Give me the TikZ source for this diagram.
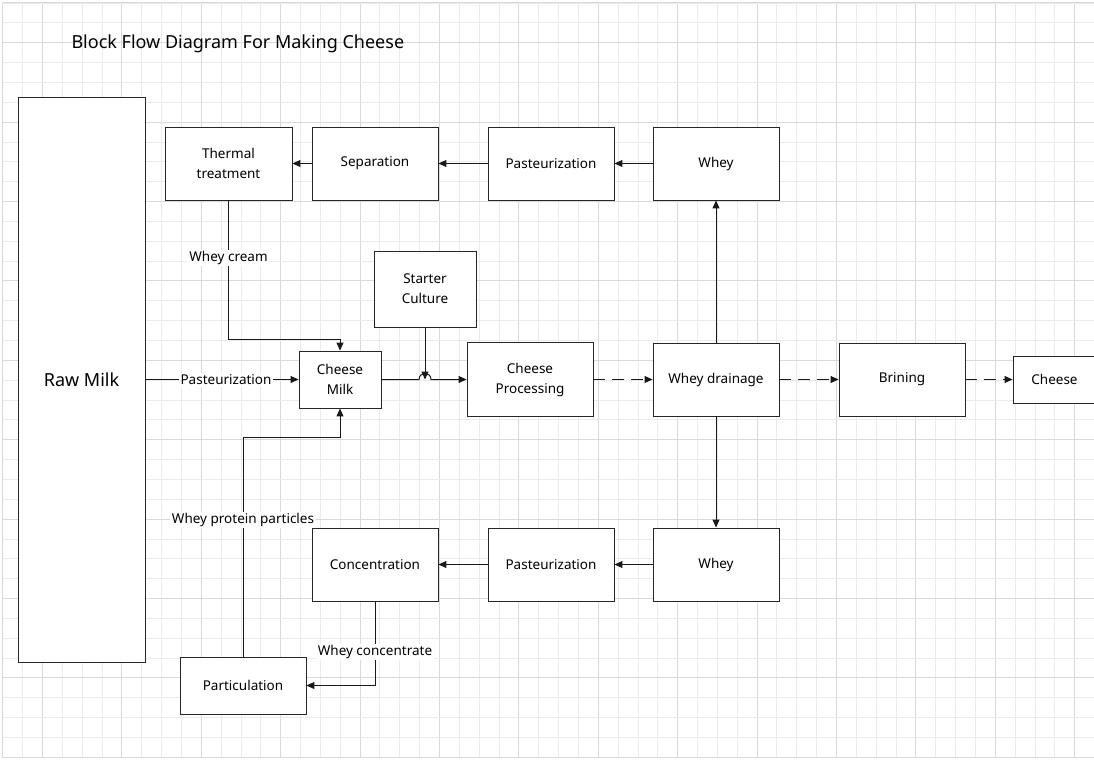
\documentclass[tikz,border=0pt]{standalone}
\usepackage{fontspec}
\setmainfont{Noto Sans}
\usetikzlibrary{arrows.meta,calc}
\tikzset{
  blk/.style={draw=black!85, line width=0.9pt, fill=white, align=center, font=\fontsize{13.5}{20}\selectfont, inner sep=2pt},
  arr/.style={draw=black!90, line width=1pt, -{Triangle[length=8pt,width=7pt]}},
  dsh/.style={dash pattern=on 12pt off 7pt},
  lbl/.style={fill=white, inner sep=1.5pt, font=\fontsize{13.5}{16}\selectfont},
  gminor/.style={draw=black!8, line width=0.8pt},
  gmajor/.style={draw=black!15, line width=1pt}
}
\begin{document}
\begin{tikzpicture}[x=1pt,y=-1pt]
\clip (0,0) rectangle (1094,762);
\fill[white] (0,0) rectangle (1094,762);
% grid
\foreach \k in {0,...,56} {
  \pgfmathsetmacro{\gx}{2.7+\k*19.85}
  \pgfmathtruncatemacro{\m}{mod(\k,4)}
  \ifnum\m=2 \draw[gmajor] (\gx,3) -- (\gx,757); \else \draw[gminor] (\gx,3) -- (\gx,757); \fi
}
\foreach \k in {0,...,38} {
  \pgfmathsetmacro{\gy}{3+\k*19.85}
  \pgfmathtruncatemacro{\m}{mod(\k,4)}
  \ifnum\m=2 \draw[gmajor] (2.7,\gy) -- (1100,\gy); \else \draw[gminor] (2.7,\gy) -- (1100,\gy); \fi
}
\draw[gmajor] (2.7,3) -- (2.7,757) -- (1100,757);
\draw[gmajor] (2.7,3) -- (1100,3);

\node[anchor=west, font=\fontsize{18}{20}\selectfont] (title) at (68,44) {Block Flow Diagram For Making Cheese};

\node[blk, minimum width=127, minimum height=565, font=\fontsize{18}{20}\selectfont] (raw) at (81.5,379.5) {Raw Milk};
\node[blk, minimum width=127, minimum height=73] (thermal) at (228.5,163.5) {Thermal\\treatment};
\node[blk, minimum width=126, minimum height=73] (sep) at (375,163.5) {Separation};
\node[blk, minimum width=126, minimum height=73] (pastT) at (551,163.5) {Pasteurization};
\node[blk, minimum width=126, minimum height=73] (wheyT) at (716,163.5) {Whey};
\node[blk, minimum width=102, minimum height=76] (starter) at (425,289) {Starter\\Culture};
\node[blk, minimum width=82, minimum height=57] (cmilk) at (340,379.5) {Cheese\\Milk};
\node[blk, minimum width=126, minimum height=74] (cproc) at (530,379.5) {Cheese\\Processing};
\node[blk, minimum width=126, minimum height=73] (wdrain) at (716,379.5) {Whey drainage};
\node[blk, minimum width=126, minimum height=73] (brine) at (902,379.5) {Brining};
\node[blk, minimum width=83, minimum height=47] (cheese) at (1054.5,379.5) {Cheese};
\node[blk, minimum width=126, minimum height=73] (wheyB) at (716,564.5) {Whey};
\node[blk, minimum width=126, minimum height=73] (pastB) at (551,564.5) {Pasteurization};
\node[blk, minimum width=126, minimum height=73] (conc) at (375,564.5) {Concentration};
\node[blk, minimum width=126, minimum height=57] (partic) at (243,685.5) {Particulation};

% connectors
\draw[arr] (wheyT) -- (pastT);
\draw[arr] (pastT) -- (sep);
\draw[arr] (sep) -- (thermal);
\draw[arr] (thermal.south) |- ($(cmilk.north)+(0,-11)$) -- (cmilk.north);
\draw[arr] (raw.east |- cmilk.west) -- (cmilk.west);
\coordinate (jc) at (starter.south |- cmilk.east);
\draw[arr] (cmilk.east) -- ($(jc)+(-6,0)$) .. controls +(0,-8) and +(0,-8) .. ($(jc)+(6,0)$) -- (cproc.west);
\draw[arr] (starter.south) -- (jc);
\draw[arr,dsh] (cproc) -- (wdrain);
\draw[arr,dsh] (wdrain) -- (brine);
\draw[arr,dsh] (brine) -- (cheese);
\draw[arr] (wdrain) -- (wheyT);
\draw[arr] (wdrain) -- (wheyB);
\draw[arr] (wheyB) -- (pastB);
\draw[arr] (pastB) -- (conc);
\draw[arr] (conc.south) |- (partic.east);
\draw[arr] (partic.north) |- ($(cmilk.south)+(0,29)$) -- (cmilk.south);

% labels
\node[lbl] (l1) at (228.5,258) {Whey cream};
\node[lbl] (l2) at (226,380) {Pasteurization};
\node[lbl] (l3) at (243,520) {Whey protein particles};
\node[lbl] (l4) at (375,652) {Whey concentrate};
\end{tikzpicture}
\end{document}
